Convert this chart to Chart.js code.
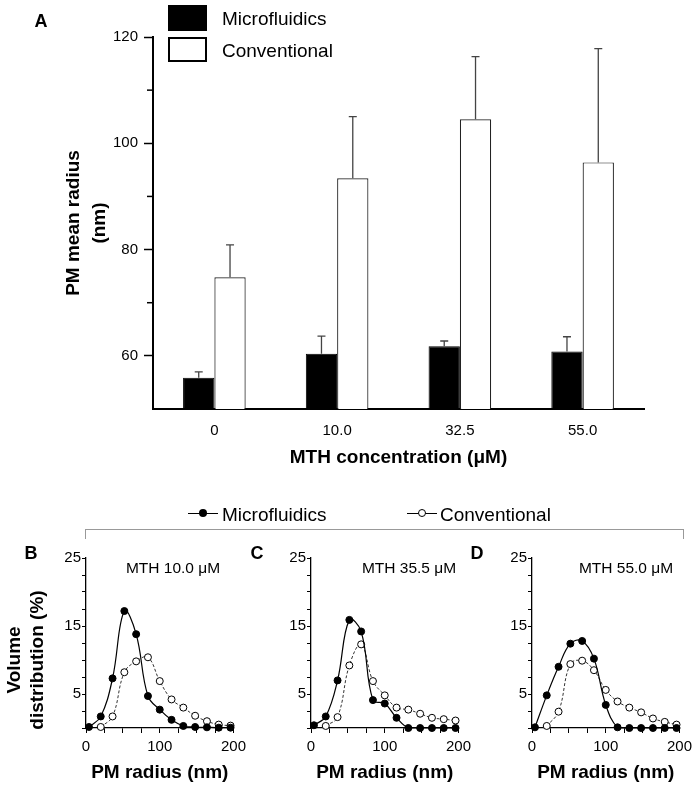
<!DOCTYPE html>
<html>
<head>
<meta charset="utf-8">
<script src="https://cdn.jsdelivr.net/npm/chart.js@4.4.1/dist/chart.umd.min.js"></script>
<style>
  html, body { margin: 0; padding: 0; background: #fff; }
  #fig { position: relative; width: 700px; height: 790px; overflow: hidden;
         font-family: Arial, "Liberation Sans", Helvetica, sans-serif; color: #000; }
  #fig canvas { position: absolute; }
  .lbl { position: absolute; transform: translate(-50%, -50%); white-space: nowrap; line-height: 1; }
  .panel { font-weight: bold; font-size: 18px; }
  .note { font-size: 15.5px; }
  .leg { position: absolute; font-size: 19px; line-height: 1; white-space: nowrap; transform: translateY(-50%); }
  .box { position: absolute; }
</style>
</head>
<body>
<div id="fig">
  <canvas id="chartA" width="700" height="480" style="left:0;top:0"></canvas>
  <canvas id="chartB" width="251" height="250" style="left:0;top:540px"></canvas>
  <canvas id="chartC" width="251" height="250" style="left:225px;top:540px"></canvas>
  <canvas id="chartD" width="251" height="250" style="left:446px;top:540px"></canvas>

  <!-- panel A legend -->
  <div class="lbl panel" style="left:41px;top:21px">A</div>
  <div class="box" style="left:168px;top:5px;width:39px;height:26px;background:#000"></div>
  <div class="box" style="left:168px;top:37px;width:35px;height:21px;border:2px solid #000;background:#fff"></div>
  <div class="leg" style="left:222px;top:18px">Microfluidics</div>
  <div class="leg" style="left:222px;top:50px">Conventional</div>

  <!-- shared legend for B-D -->
  <div class="box" style="left:188px;top:513px;width:30px;height:1px;background:#000"></div>
  <div class="box" style="left:199px;top:509px;width:8px;height:8px;border-radius:50%;background:#000"></div>
  <div class="leg" style="left:222px;top:514px">Microfluidics</div>
  <div class="box" style="left:407px;top:513px;width:30px;height:1px;background:#000"></div>
  <div class="box" style="left:418px;top:509px;width:6px;height:6px;border-radius:50%;border:1px solid #000;background:#fff"></div>
  <div class="leg" style="left:440px;top:514px">Conventional</div>
  <div class="box" style="left:85px;top:529px;width:597px;height:9px;border:1px solid #999;border-bottom:none"></div>

  <div class="lbl panel" style="left:31px;top:553px">B</div>
  <div class="lbl panel" style="left:257px;top:553px">C</div>
  <div class="lbl panel" style="left:477px;top:553px">D</div>
  <div class="lbl note" style="left:173px;top:568px">MTH 10.0 μM</div>
  <div class="lbl note" style="left:409px;top:568px">MTH 35.5 μM</div>
  <div class="lbl note" style="left:626px;top:568px">MTH 55.0 μM</div>
  <div class="box" style="left:-75px;top:637px;width:200px;height:46px;transform:rotate(-90deg);text-align:center;font-weight:bold;font-size:19px;line-height:23px">Volume<br>distribution (%)</div>
</div>

<script>
// ---- panel A: mean radius by MTH concentration ----
var concLabels = ['0', '10.0', '32.5', '55.0'];
var meanMicro = [55.9, 60.4, 61.8, 60.8];
var errMicro = [1.1, 3.3, 1.0, 2.8];
var meanConv = [74.8, 93.4, 104.5, 96.4];
var errConv = [6.1, 11.6, 11.8, 21.4];
var radiusTicksA = [60, 80, 100, 120];
var minorTicksA = [70, 90, 110];

// ---- panels B-D: volume distribution vs radius ----
var radiusMicro = [4, 20, 36, 52, 68, 84, 100, 116, 132, 148, 164, 180, 196];
var radiusConv = [20, 36, 52, 68, 84, 100, 116, 132, 148, 164, 180, 196];
var distMicroB = [0.15, 1.7, 7.3, 17.2, 13.8, 4.7, 2.7, 1.2, 0.3, 0.15, 0.1, 0.05, 0.05];
var distConvB = [0.15, 1.7, 8.2, 9.8, 10.4, 6.9, 4.2, 3.0, 1.8, 1.0, 0.5, 0.35];
var distMicroC = [0.4, 1.7, 7.0, 15.9, 14.2, 4.1, 3.6, 1.5, 0, 0, 0, 0, 0];
var distConvC = [0.3, 1.6, 9.2, 12.3, 6.9, 4.8, 3.0, 2.7, 2.1, 1.5, 1.3, 1.1];
var distMicroD = [0.1, 4.8, 9.0, 12.4, 12.8, 10.2, 3.4, 0.1, 0, 0, 0, 0, 0];
var distConvD = [0.3, 2.4, 9.4, 9.9, 8.5, 5.6, 3.9, 3.0, 2.3, 1.4, 0.9, 0.5];
var distTicksY = [5, 15, 25];
var radiusTicksX = [0, 100, 200];

Chart.defaults.font.family = 'Arial, "Liberation Sans", Helvetica, sans-serif';
Chart.defaults.color = '#000';

// error bars (upper only) drawn from the y scale
var errorBars = {
    id: 'errorBars',
    afterDatasetsDraw: function (chart) {
        var ctx = chart.ctx;
        var y = chart.scales.y;
        ctx.save();
        ctx.strokeStyle = '#444';
        ctx.lineWidth = 1.3;
        chart.data.datasets.forEach(function (ds, i) {
            chart.getDatasetMeta(i).data.forEach(function (bar, j) {
                var top = y.getPixelForValue(ds.data[j] + ds.errors[j]);
                ctx.beginPath();
                ctx.moveTo(bar.x, bar.y);
                ctx.lineTo(bar.x, top);
                ctx.moveTo(bar.x - 4, top);
                ctx.lineTo(bar.x + 4, top);
                ctx.stroke();
            });
        });
        ctx.restore();
    }
};

// short unlabeled ticks on the y axis
var minorTicks = {
    id: 'minorTicks',
    afterDraw: function (chart, args, opts) {
        var s = chart.scales.y;
        var ctx = chart.ctx;
        ctx.save();
        ctx.strokeStyle = '#000';
        ctx.lineWidth = 1.5;
        (opts.values || []).forEach(function (v) {
            var py = s.getPixelForValue(v);
            ctx.beginPath();
            ctx.moveTo(s.right - 6, py);
            ctx.lineTo(s.right, py);
            ctx.stroke();
        });
        ctx.restore();
    }
};

new Chart(document.getElementById('chartA'), {
    type: 'bar',
    data: {
        labels: concLabels,
        datasets: [
            { label: 'Microfluidics', data: meanMicro, errors: errMicro,
              backgroundColor: '#000', borderColor: '#000', borderWidth: 1 },
            { label: 'Conventional', data: meanConv, errors: errConv,
              backgroundColor: '#fff', borderColor: '#222', borderWidth: 1.2 }
        ]
    },
    options: {
        responsive: false,
        animation: false,
        devicePixelRatio: 1,
        layout: { padding: { left: 0, right: 56, top: 37, bottom: 0 } },
        datasets: { bar: { categoryPercentage: 0.51, barPercentage: 1 } },
        plugins: {
            legend: { display: false },
            tooltip: { enabled: false },
            minorTicks: { values: minorTicksA }
        },
        scales: {
            x: {
                grid: { display: false, drawTicks: false },
                border: { display: true, color: '#000', width: 2 },
                ticks: { padding: 13, font: { size: 15 } },
                title: { display: true, text: 'MTH concentration (μM)',
                         font: { size: 19, weight: 'bold' }, padding: { top: 0, bottom: 11 } },
                afterFit: function (s) { s.height = 71; }
            },
            y: {
                min: 50, max: 120,
                ticks: {
                    stepSize: 10, padding: 6, autoSkip: false, font: { size: 15 },
                    callback: function (v) { return radiusTicksA.indexOf(v) >= 0 ? String(v) : ''; }
                },
                grid: {
                    drawOnChartArea: false, tickLength: 9, tickWidth: 1.5,
                    tickColor: function (c) {
                        return c.tick && radiusTicksA.indexOf(c.tick.value) >= 0 ? '#000' : 'rgba(0,0,0,0)';
                    }
                },
                border: { display: true, color: '#000', width: 2 },
                title: { display: true, text: ['PM mean radius', '(nm)'],
                         font: { size: 19, weight: 'bold', lineHeight: 1.4 }, padding: { top: 60, bottom: 0 } },
                afterFit: function (s) { s.width = 153; }
            }
        }
    },
    plugins: [errorBars, minorTicks]
});

function points(xs, ys) {
    return xs.map(function (x, i) { return { x: x, y: ys[i] }; });
}

function distChart(id, micro, conv) {
    new Chart(document.getElementById(id), {
        type: 'line',
        data: {
            datasets: [
                { label: 'Microfluidics', data: points(radiusMicro, micro),
                  borderColor: '#000', borderWidth: 1.2, tension: 0.4, clip: false,
                  pointRadius: 3.5, pointBackgroundColor: '#000', pointBorderColor: '#000', pointBorderWidth: 1 },
                { label: 'Conventional', data: points(radiusConv, conv),
                  borderColor: '#333', borderWidth: 1, borderDash: [3, 2], tension: 0.4, clip: false,
                  pointRadius: 3.5, pointBackgroundColor: '#fff', pointBorderColor: '#000', pointBorderWidth: 1 }
            ]
        },
        options: {
            responsive: false,
            animation: false,
            devicePixelRatio: 1,
            layout: { padding: { left: 0, right: 14, top: 18, bottom: 0 } },
            plugins: { legend: { display: false }, tooltip: { enabled: false } },
            scales: {
                x: {
                    type: 'linear', min: 0, max: 200,
                    ticks: {
                        stepSize: 25, padding: 5, autoSkip: false, maxRotation: 0, font: { size: 15 },
                        callback: function (v) { return radiusTicksX.indexOf(v) >= 0 ? String(v) : ''; }
                    },
                    grid: { drawOnChartArea: false, tickLength: 5, tickColor: '#000', tickWidth: 1 },
                    border: { color: '#000', width: 1.3 },
                    title: { display: true, text: 'PM radius (nm)',
                             font: { size: 19, weight: 'bold' }, padding: { top: 0, bottom: 6 } },
                    afterFit: function (s) { s.height = 62; }
                },
                y: {
                    min: 0, max: 25,
                    ticks: {
                        stepSize: 2.5, padding: 1, autoSkip: false, font: { size: 15 },
                        callback: function (v) { return distTicksY.indexOf(v) >= 0 ? String(v) : ''; }
                    },
                    grid: { drawOnChartArea: false, tickLength: 4, tickColor: '#000', tickWidth: 1 },
                    border: { color: '#000', width: 1.3 },
                    afterFit: function (s) { s.width = 86; }
                }
            }
        }
    });
}

distChart('chartB', distMicroB, distConvB);
distChart('chartC', distMicroC, distConvC);
distChart('chartD', distMicroD, distConvD);
</script>
</body>
</html>
